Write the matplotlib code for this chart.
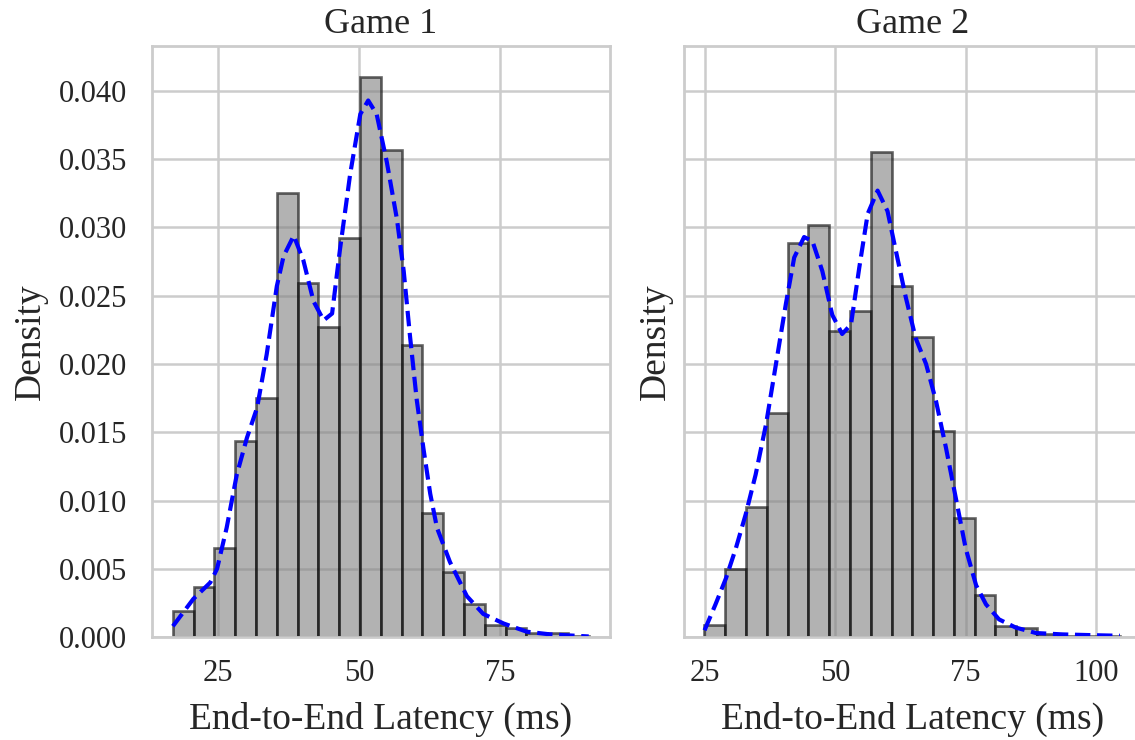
import numpy as np
import matplotlib
matplotlib.use("Agg")
import matplotlib.pyplot as plt
import seaborn as sns

# histogram bins (range of the data, 20 bins each)
game1_range = (16.97, 90.7)
game2_range = (24.87, 104.65)
n_bins = 20

# bar heights (density)
game1_density = [0.0019, 0.0037, 0.0065, 0.0144, 0.0175, 0.0325, 0.0259, 0.0227, 0.0292, 0.0410,
                 0.0357, 0.0214, 0.0091, 0.0048, 0.0024, 0.0009, 0.0007, 0.0003, 0.0003, 0.00005]
game2_density = [0.0009, 0.0050, 0.0095, 0.0164, 0.0289, 0.0302, 0.0224, 0.0239, 0.0355, 0.0257,
                 0.0220, 0.0151, 0.0087, 0.0031, 0.0008, 0.0007, 0.0002, 0.0001, 0.0001, 0.0001]

# kde curves
game1_kde_x = [16.97, 20.6, 23.6, 24.8, 26.5, 28.3, 30.1, 31.9, 33.6, 35.4, 36.6, 38.4, 40.1, 41.9,
               43.7, 45.2, 46.6, 48.4, 50.2, 51.6, 53.1, 54.9, 56.7, 57.9, 59.0, 60.2, 61.4, 62.6,
               63.8, 66.1, 69.1, 72.0, 75.6, 79.7, 83.9, 90.7]
game1_kde_y = [0.0008, 0.0028, 0.0040, 0.0050, 0.0080, 0.0119, 0.0146, 0.0168, 0.0207, 0.0257,
               0.0279, 0.0294, 0.0276, 0.0246, 0.0232, 0.0237, 0.0284, 0.0339, 0.0383, 0.0393,
               0.0383, 0.0348, 0.0306, 0.0268, 0.0221, 0.0174, 0.0138, 0.0105, 0.0080, 0.0055,
               0.0030, 0.0017, 0.0010, 0.0004, 0.0002, 0.00005]
game2_kde_x = [24.9, 27.0, 29.0, 30.9, 32.8, 34.7, 36.7, 38.6, 40.5, 42.1, 44.0, 45.6, 47.5, 49.4,
               51.3, 53.0, 54.6, 56.2, 58.1, 60.0, 61.6, 63.5, 65.4, 67.4, 69.3, 71.2, 73.1, 75.0,
               77.0, 78.9, 81.4, 84.6, 88.5, 93.6, 98.7, 104.6]
game2_kde_y = [0.0005, 0.0024, 0.0043, 0.0065, 0.0090, 0.0119, 0.0156, 0.0200, 0.0244, 0.0278,
               0.0293, 0.0290, 0.0268, 0.0236, 0.0222, 0.0229, 0.0271, 0.0310, 0.0327, 0.0312,
               0.0283, 0.0249, 0.0219, 0.0200, 0.0173, 0.0139, 0.0102, 0.0065, 0.0038, 0.0024,
               0.0013, 0.0007, 0.0003, 0.0002, 0.00015, 0.0001]

titles = ["Game 1", "Game 2"]
xticks = [[25, 50, 75], [25, 50, 75, 100]]

sns.set_style("whitegrid")
plt.rcParams['font.family'] = ['Liberation Serif', 'DejaVu Serif']
plt.rcParams['text.color'] = '#262626'
plt.rcParams['axes.labelcolor'] = '#262626'
plt.rcParams['xtick.color'] = '#262626'
plt.rcParams['ytick.color'] = '#262626'

fig, axes = plt.subplots(1, 2, figsize=(11.35, 7.4), dpi=100, sharey=True)
plt.subplots_adjust(left=0.134, right=1.0053, bottom=0.139, top=0.938, wspace=0.162)

data = [(game1_range, game1_density, game1_kde_x, game1_kde_y),
        (game2_range, game2_density, game2_kde_x, game2_kde_y)]

for ax, (rng, dens, kx, ky), title, xt in zip(axes, data, titles, xticks):
    edges = np.linspace(rng[0], rng[1], n_bins + 1)
    ax.bar(edges[:-1], dens, width=np.diff(edges), align='edge',
           color='gray', alpha=0.6, edgecolor='black', linewidth=1.9)
    ax.plot(kx, ky, color='blue', linestyle='--', linewidth=3)
    ax.set_title(title, fontsize=26, pad=9)
    ax.set_xlabel("End-to-End Latency (ms)", fontsize=27, labelpad=10)
    ax.set_ylabel("Density", fontsize=27, labelpad=8)
    ax.set_xticks(xt)
    ax.tick_params(labelsize=22, length=0)
    ax.tick_params(axis='x', pad=16)
    ax.tick_params(axis='y', pad=18)
    ax.grid(True, color='#cccccc', linewidth=1.8)
    ax.set_axisbelow(True)
    for s in ax.spines.values():
        s.set_color('#cccccc')
        s.set_linewidth(2)
    ax.margins(x=0.05)

axes[0].set_ylim(0, 0.0433)
axes[0].set_yticks(np.arange(0, 0.041, 0.005))
axes[0].set_yticklabels(["%.3f" % v for v in np.arange(0, 0.041, 0.005)])
axes[1].tick_params(labelleft=False)
axes[1].yaxis.label.set_visible(True)

plt.savefig("out.png", dpi=100)
